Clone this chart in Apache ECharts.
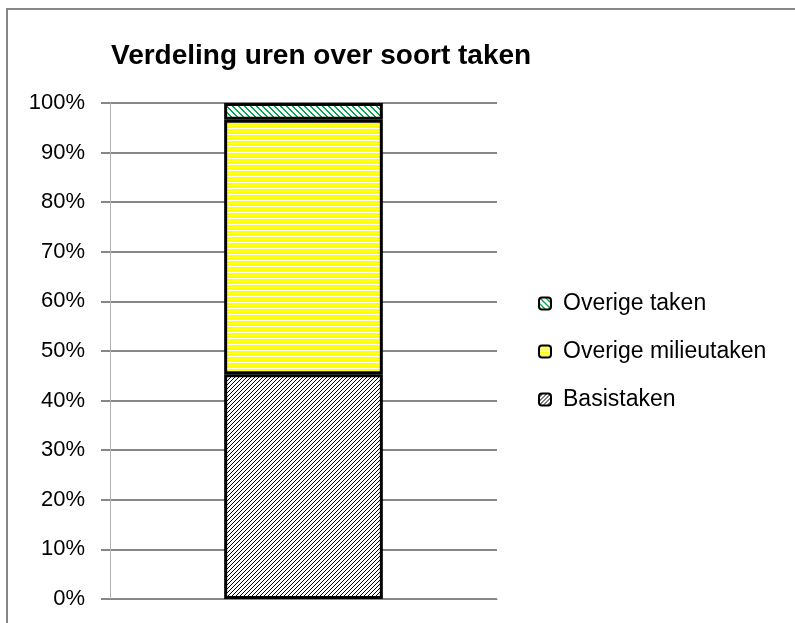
<!DOCTYPE html>
<html><head><meta charset="utf-8">
<script src="https://cdn.jsdelivr.net/npm/echarts@6/dist/echarts.min.js"></script>
<style>html,body{margin:0;padding:0;background:#fff}#c{width:795px;height:623px}</style>
</head><body><div id="c"></div>
<script>
const categories = [''];
const basistaken = [45.3];
const overigeMilieutaken = [51.3];
const overigeTaken = [3.4];
const yTicks = ['0%','10%','20%','30%','40%','50%','60%','70%','80%','90%','100%'];

function tile(w, h, bg, fg, pts) {
  const c = document.createElement('canvas');
  c.width = w; c.height = h;
  const g = c.getContext('2d');
  g.fillStyle = bg; g.fillRect(0, 0, w, h);
  g.fillStyle = fg;
  pts.forEach(p => g.fillRect(p[0], p[1], 1, 1));
  return c;
}
// "/" diagonal black
const basisTile = tile(4, 4, '#ffffff', '#000000', [[0,3],[1,2],[2,1],[3,0]]);
// horizontal yellow/white
const milieuTile = (function(){const c=document.createElement('canvas');c.width=4;c.height=3;const g=c.getContext('2d');g.fillStyle='#ffff00';g.fillRect(0,0,4,3);g.fillStyle='#ffffff';g.fillRect(0,2,4,1);return c;})();
// "\" diagonal green
const overigTile = tile(6, 6, '#ffffff', '#00a84f', [[0,0],[1,1],[2,2],[3,3],[4,4],[5,5],[1,0],[2,1],[3,2],[4,3],[5,4],[0,5]]);

const chart = echarts.init(document.getElementById('c'), null, {renderer: 'canvas'});
const font = '"Liberation Sans", Arial, sans-serif';
chart.setOption({
  animation: false,
  textStyle: {fontFamily: font},
  title: {
    text: 'Verdeling uren over soort taken',
    left: 106, top: 37,
    textStyle: {fontSize: 28, fontWeight: 'bold', color: '#000', fontFamily: font}
  },
  graphic: [{
    type: 'polyline', silent: true,
    shape: {points: [[7, 640], [7, 9], [800, 9]]},
    style: {stroke: '#868686', lineWidth: 2, fill: null}
  }],
  legend: {
    orient: 'vertical', left: 533, top: 287, itemGap: 25,
    itemWidth: 12, itemHeight: 12,
    data: ['Overige taken', 'Overige milieutaken', 'Basistaken'],
    textStyle: {fontSize: 23, color: '#000', fontFamily: font, padding: [0, 0, 0, 7]}
  },
  grid: {left: 110, top: 103, right: 298, bottom: 24},
  xAxis: {
    type: 'category', data: categories,
    axisLine: {lineStyle: {color: '#868686', width: 1}},
    axisTick: {show: false}, axisLabel: {show: false}
  },
  yAxis: {
    type: 'value', min: 0, max: 100, interval: 10,
    axisLine: {show: true, lineStyle: {color: '#b0b0b0', width: 1}},
    axisTick: {show: true, length: 9, lineStyle: {color: '#868686', width: 2}},
    splitLine: {lineStyle: {color: '#868686', width: 2}},
    axisLabel: {
      fontSize: 22, color: '#000', margin: 25, fontFamily: font,
      formatter: v => yTicks[Math.round(v / 10)]
    }
  },
  series: [
    {name: 'Basistaken', type: 'bar', stack: 's', data: basistaken, barWidth: '41%',
     itemStyle: {color: {image: basisTile, repeat: 'repeat'}, borderColor: '#000', borderWidth: 3}},
    {name: 'Overige milieutaken', type: 'bar', stack: 's', data: overigeMilieutaken,
     itemStyle: {color: {image: milieuTile, repeat: 'repeat'}, borderColor: '#000', borderWidth: 3}},
    {name: 'Overige taken', type: 'bar', stack: 's', data: overigeTaken,
     itemStyle: {color: {image: overigTile, repeat: 'repeat'}, borderColor: '#000', borderWidth: 3}}
  ]
});
</script></body></html>
